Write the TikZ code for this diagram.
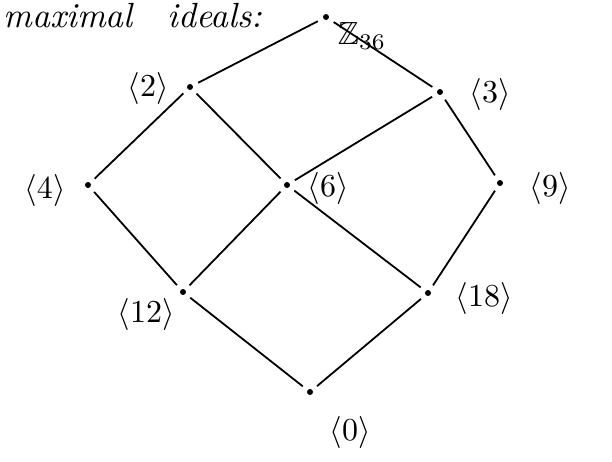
\documentclass[tikz,border=0pt]{standalone}
\usepackage{amssymb}
\begin{document}
\begin{tikzpicture}[x=1pt,y=-1pt,
  pt/.style={circle,fill=black,inner sep=0pt,minimum size=6pt},
  lab/.style={scale=3.2,inner sep=0.5pt},
  edge/.style={line width=1.8pt,shorten >=6pt,shorten <=6pt}]
\useasboundingbox (0,0) rectangle (612,461);
\fill[white] (0,0) rectangle (612,461);
\node[anchor=north west,scale=3.5,inner sep=0pt] (title) at (3,3) {\itshape maximal\quad ideals:};
\node[pt] (z) at (326,17) {};
\node[pt] (a2) at (190,87) {};
\node[pt] (a3) at (440,92) {};
\node[pt] (a4) at (88,185) {};
\node[pt] (a6) at (287,185) {};
\node[pt] (a9) at (500,183) {};
\node[pt] (a12) at (183,292) {};
\node[pt] (a18) at (428,293) {};
\node[pt] (a0) at (310,392) {};
\node[lab] (lz) at (362,36) {$\mathbb{Z}_{36}$};
\node[lab] (l2) at (148,88) {$\langle 2\rangle$};
\node[lab] (l3) at (490,94) {$\langle 3\rangle$};
\node[lab] (l4) at (45,190) {$\langle 4\rangle$};
\node[lab] (l6) at (328,188) {$\langle 6\rangle$};
\node[lab] (l9) at (550,188) {$\langle 9\rangle$};
\node[lab] (l12) at (146,314) {$\langle 12\rangle$};
\node[lab] (l18) at (484,298) {$\langle 18\rangle$};
\node[lab] (l0) at (350,432) {$\langle 0\rangle$};
\draw[edge] (z) -- (a2);
\draw[edge] (z) -- (a3);
\draw[edge] (a2) -- (a4);
\draw[edge] (a2) -- (a6);
\draw[edge] (a3) -- (a6);
\draw[edge] (a3) -- (a9);
\draw[edge] (a4) -- (a12);
\draw[edge] (a6) -- (a12);
\draw[edge] (a6) -- (a18);
\draw[edge] (a9) -- (a18);
\draw[edge] (a12) -- (a0);
\draw[edge] (a18) -- (a0);
\end{tikzpicture}
\end{document}
